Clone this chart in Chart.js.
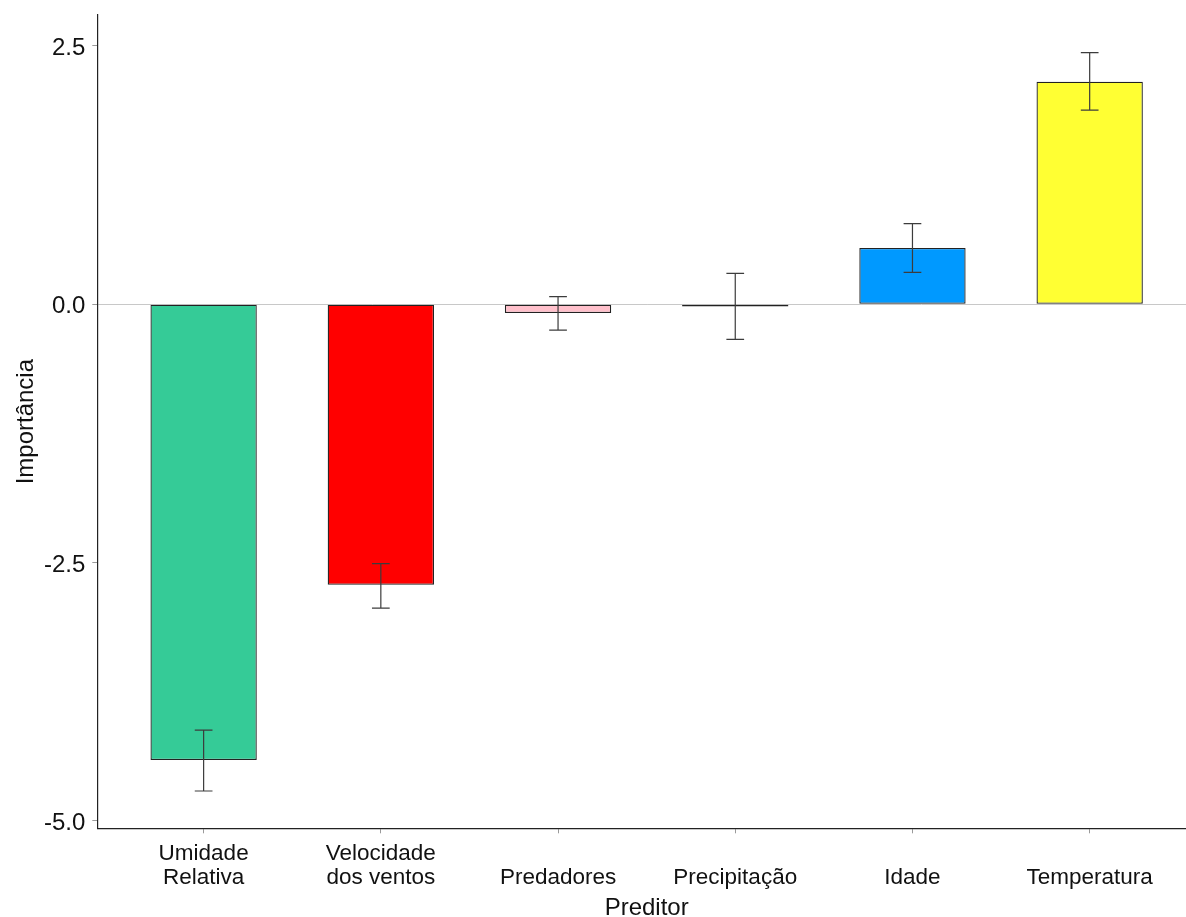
<!DOCTYPE html>
<html>
<head>
<meta charset="utf-8">
<script src="https://cdn.jsdelivr.net/npm/chart.js@4/dist/chart.umd.min.js"></script>
<style>
  html, body { margin: 0; padding: 0; background: #ffffff; overflow: hidden; width: 1186px; height: 917px; }
  canvas { display: block; }
</style>
</head>
<body>
<canvas id="chart" width="1196" height="917"></canvas>
<script>
// Predictor importance with error bars
const predictors = ['Umidade Relativa', 'Velocidade dos ventos', 'Predadores', 'Precipitação', 'Idade', 'Temperatura'];
const xTickLabels = [['Umidade', 'Relativa'], ['Velocidade', 'dos ventos'], 'Predadores', 'Precipitação', 'Idade', 'Temperatura'];
const importance = [-4.41, -2.715, -0.085, -0.02, 0.545, 2.155];
const errorLow = [-4.71, -2.94, -0.25, -0.34, 0.31, 1.88];
const errorHigh = [-4.12, -2.51, 0.075, 0.30, 0.78, 2.435];
const yTickValues = [-5, -2.5, 0, 2.5];
const yTickLabels = ['-5.0', '-2.5', '0.0', '2.5'];

const barColors = ['#35cb97', '#ff0000', '#ffc0cb', '#111111', '#0099ff', '#ffff33'];
const fontFamily = '"Liberation Sans", Arial, sans-serif';

// Vertical error bars with caps, positioned through the chart scales
const errorBarPlugin = {
  id: 'errorBars',
  afterDatasetsDraw(chart) {
    const { ctx, scales: { x, y } } = chart;
    ctx.save();
    ctx.strokeStyle = '#3c3c3c';
    ctx.lineWidth = 1.2;
    errorLow.forEach((lo, i) => {
      const px = x.getPixelForValue(i + 1);
      const half = x.getPixelForValue(i + 1 + 0.05) - px;
      const yLo = y.getPixelForValue(lo);
      const yHi = y.getPixelForValue(errorHigh[i]);
      ctx.beginPath();
      ctx.moveTo(px, yLo); ctx.lineTo(px, yHi);
      ctx.moveTo(px - half, yLo); ctx.lineTo(px + half, yLo);
      ctx.moveTo(px - half, yHi); ctx.lineTo(px + half, yHi);
      ctx.stroke();
    });
    ctx.restore();
  }
};

// Fixed axis boxes so the plot area sits where the layout wants it
const fixBox = (w, h) => s => {
  if (w !== null) s.width = w;
  if (h !== null) s.height = h;
  s.paddingTop = 0; s.paddingBottom = 0; s.paddingLeft = 0; s.paddingRight = 0;
};

new Chart(document.getElementById('chart'), {
  type: 'bar',
  data: {
    datasets: [{
      label: 'Importância',
      data: importance.map((v, i) => ({ x: i + 1, y: v })),
      backgroundColor: barColors,
      borderColor: '#222222',
      borderWidth: 1.3,
      borderSkipped: false,
      barPercentage: 0.6,
      categoryPercentage: 1
    }]
  },
  options: {
    responsive: false,
    animation: false,
    devicePixelRatio: 1,
    layout: { padding: { top: 15, left: 0, right: 0, bottom: 0 } },
    plugins: { legend: { display: false }, tooltip: { enabled: false } },
    scales: {
      x: {
        type: 'linear',
        min: 0.4,
        max: 6.6,
        offset: false,
        afterBuildTicks: s => { s.ticks = predictors.map((_, i) => ({ value: i + 1 })); },
        afterFit: fixBox(null, 88.7),
        grid: { offset: false, drawOnChartArea: false, drawTicks: true, tickLength: 5, tickColor: '#9a9a9a', tickWidth: 1 },
        border: { display: true, color: '#222222', width: 1.2 },
        ticks: {
          autoSkip: false, maxRotation: 0, minRotation: 0,
          padding: 20, crossAlign: 'far', color: '#111111',
          font: { family: fontFamily, size: 22.5, lineHeight: 1.067 },
          callback: v => xTickLabels[Math.round(v) - 1] ?? ''
        },
        title: {
          display: true, text: 'Preditor', color: '#111111',
          font: { family: fontFamily, size: 24, lineHeight: 1 },
          padding: { top: 0, bottom: -3 }
        }
      },
      y: {
        type: 'linear',
        min: -5.071,
        max: 2.80,
        afterBuildTicks: s => { s.ticks = yTickValues.map(v => ({ value: v })); },
        afterFit: fixBox(97.3, null),
        grid: {
          color: c => (c.tick && c.tick.value === 0) ? '#c8c8c8' : 'rgba(0,0,0,0)',
          lineWidth: 1, drawTicks: true, tickLength: 5, tickColor: '#9a9a9a', tickWidth: 1
        },
        border: { display: true, color: '#222222', width: 1.2 },
        ticks: {
          padding: 7, color: '#111111', labelOffset: 2.5,
          font: { family: fontFamily, size: 24 },
          callback: v => yTickLabels[yTickValues.indexOf(v)] ?? ''
        },
        title: {
          display: true, text: 'Importância', color: '#111111',
          font: { family: fontFamily, size: 24, lineHeight: 1 },
          padding: { top: 14, bottom: 0 }
        }
      }
    }
  },
  plugins: [errorBarPlugin]
});
</script>
</body>
</html>
